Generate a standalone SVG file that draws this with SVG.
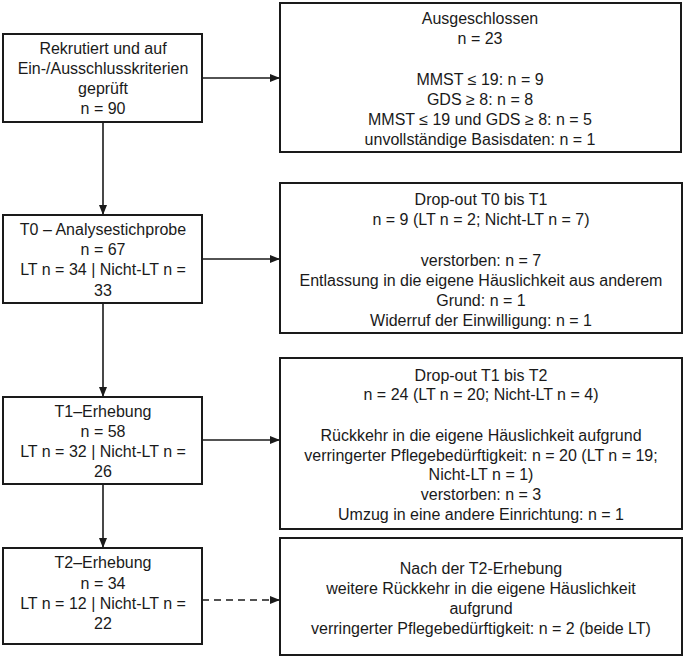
<svg xmlns="http://www.w3.org/2000/svg" width="685" height="659" viewBox="0 0 685 659">
<defs>
<style>
.box{fill:#fff;stroke:#1a1a1a;stroke-width:2}
.t{font-family:"Liberation Sans",Arial,sans-serif;font-size:16px;fill:#1a1a1a;text-anchor:middle}
.c{stroke:#1a1a1a;stroke-width:1.6;fill:none}
.d{stroke-dasharray:7 5}
</style>
<marker id="ah" viewBox="0 0 10 10" refX="10" refY="5" markerWidth="10" markerHeight="10" markerUnits="userSpaceOnUse" orient="auto">
<path d="M0,1 L10,5 L0,9 Z" fill="#1a1a1a"/>
</marker>
</defs>
<rect width="685" height="659" fill="#fff"/>
<g id="connectors">
<line class="c" x1="202" y1="78" x2="280" y2="78" marker-end="url(#ah)"/>
<line class="c" x1="103" y1="122" x2="103" y2="215" marker-end="url(#ah)"/>
<line class="c" x1="202" y1="259" x2="280" y2="259" marker-end="url(#ah)"/>
<line class="c" x1="103" y1="303" x2="103" y2="397" marker-end="url(#ah)"/>
<line class="c" x1="202" y1="440" x2="280" y2="440" marker-end="url(#ah)"/>
<line class="c" x1="103" y1="484" x2="103" y2="548" marker-end="url(#ah)"/>
<line class="c d" x1="202" y1="600" x2="280" y2="600" marker-end="url(#ah)"/>
</g>
<g id="n_rekrutiert">
<rect class="box" x="3" y="34" width="199" height="88"/>
<text class="t" x="103" y="54">Rekrutiert und auf</text>
<text class="t" x="103" y="74">Ein-/Ausschlusskriterien</text>
<text class="t" x="103" y="94">geprüft</text>
<text class="t" x="103" y="114">n = 90</text>
</g>
<g id="n_ausgeschlossen">
<rect class="box" x="280" y="3" width="401" height="149"/>
<text class="t" x="480" y="24">Ausgeschlossen</text>
<text class="t" x="480" y="44">n = 23</text>
<text class="t" x="480" y="85">MMST ≤ 19: n = 9</text>
<text class="t" x="480" y="105">GDS ≥ 8: n = 8</text>
<text class="t" x="480" y="125">MMST ≤ 19 und GDS ≥ 8: n = 5</text>
<text class="t" x="480" y="145">unvollständige Basisdaten: n = 1</text>
</g>
<g id="n_t0">
<rect class="box" x="3" y="215" width="199" height="88"/>
<text class="t" x="103" y="235">T0 – Analysestichprobe</text>
<text class="t" x="103" y="255">n = 67</text>
<text class="t" x="103" y="275">LT n = 34 | Nicht-LT n =</text>
<text class="t" x="103" y="296">33</text>
</g>
<g id="n_dropout1">
<rect class="box" x="280" y="183" width="402" height="150"/>
<text class="t" x="481" y="205">Drop-out T0 bis T1</text>
<text class="t" x="481" y="225">n = 9 (LT n = 2; Nicht-LT n = 7)</text>
<text class="t" x="481" y="266">verstorben: n = 7</text>
<text class="t" x="481" y="286">Entlassung in die eigene Häuslichkeit aus anderem</text>
<text class="t" x="481" y="306">Grund: n = 1</text>
<text class="t" x="481" y="326">Widerruf der Einwilligung: n = 1</text>
</g>
<g id="n_t1">
<rect class="box" x="3" y="397" width="199" height="87"/>
<text class="t" x="103" y="417">T1–Erhebung</text>
<text class="t" x="103" y="437">n = 58</text>
<text class="t" x="103" y="457">LT n = 32 | Nicht-LT n =</text>
<text class="t" x="103" y="477">26</text>
</g>
<g id="n_dropout2">
<rect class="box" x="280" y="358" width="402" height="171"/>
<text class="t" x="481" y="381">Drop-out T1 bis T2</text>
<text class="t" x="481" y="400">n = 24 (LT n = 20; Nicht-LT n = 4)</text>
<text class="t" x="481" y="441">Rückkehr in die eigene Häuslichkeit aufgrund</text>
<text class="t" x="481" y="461">verringerter Pflegebedürftigkeit: n = 20 (LT n = 19;</text>
<text class="t" x="481" y="480">Nicht-LT n = 1)</text>
<text class="t" x="481" y="500">verstorben: n = 3</text>
<text class="t" x="481" y="520">Umzug in eine andere Einrichtung: n = 1</text>
</g>
<g id="n_t2">
<rect class="box" x="3" y="548" width="199" height="96"/>
<text class="t" x="103" y="568">T2–Erhebung</text>
<text class="t" x="103" y="589">n = 34</text>
<text class="t" x="103" y="609">LT n = 12 | Nicht-LT n =</text>
<text class="t" x="103" y="629">22</text>
</g>
<g id="n_nach_t2">
<rect class="box" x="280" y="538" width="402" height="117"/>
<text class="t" x="481" y="574">Nach der T2-Erhebung</text>
<text class="t" x="481" y="594">weitere Rückkehr in die eigene Häuslichkeit</text>
<text class="t" x="481" y="614">aufgrund</text>
<text class="t" x="481" y="634">verringerter Pflegebedürftigkeit: n = 2 (beide LT)</text>
</g>
</svg>
